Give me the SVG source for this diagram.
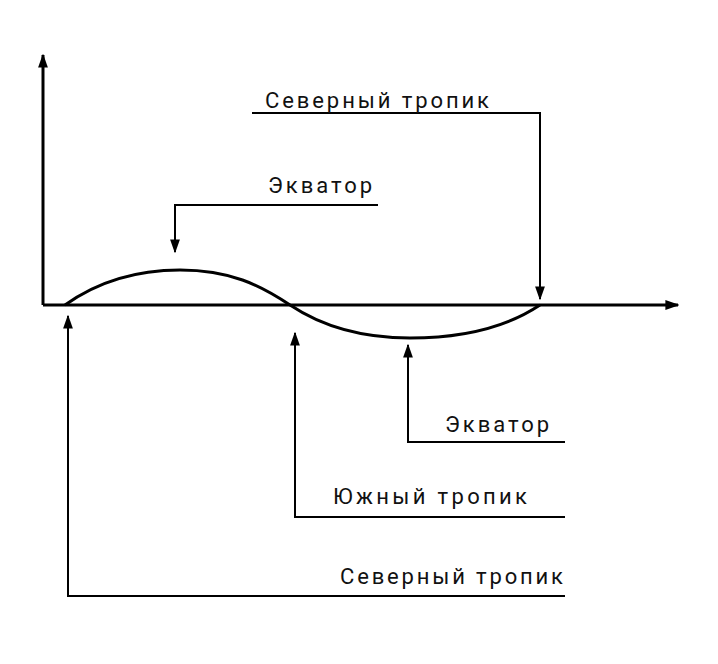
<svg xmlns="http://www.w3.org/2000/svg" width="718" height="664" viewBox="0 0 718 664">
<style>
.ln{fill:none;stroke:#000;stroke-width:2}
.ax{fill:none;stroke:#000;stroke-width:3}
text{font-family:Roboto,"Liberation Sans",sans-serif;font-size:22px;fill:#111}
</style>
<defs>
<marker id="b" viewBox="0 0 10 10" refX="9" refY="5" markerWidth="14" markerHeight="14" orient="auto" markerUnits="userSpaceOnUse"><path d="M0,1.5L10,5L0,8.5z" fill="#000"/></marker>
</defs>
<rect width="718" height="664" fill="#fff"/>
<g id="axes">
<path class="ax" d="M43,305V55" marker-end="url(#b)"/>
<path class="ax" d="M43,305H678" marker-end="url(#b)"/>
</g>
<g id="curve"><path class="ax" d="M65,305C100,280 140,270 180,270C230,270 260,285 290,305C320,325 360,338 410,338C470,338 510,325 540,305"/></g>
<g id="connectors">
<path class="ln" d="M252,113H540V299" marker-end="url(#b)"/>
<path class="ln" d="M378,205H175V252" marker-end="url(#b)"/>
<path class="ln" d="M565,442H408V345" marker-end="url(#b)"/>
<path class="ln" d="M565,517H295V333" marker-end="url(#b)"/>
<path class="ln" d="M565,596H68V316" marker-end="url(#b)"/>
</g>
<g id="l1"><text x="265" y="108" textLength="224" lengthAdjust="spacing">Северный тропик</text></g>
<g id="l2"><text x="268" y="193" textLength="104" lengthAdjust="spacing">Экватор</text></g>
<g id="l3"><text x="445" y="432" textLength="104" lengthAdjust="spacing">Экватор</text></g>
<g id="l4"><text x="333" y="504" textLength="194" lengthAdjust="spacing">Южный тропик</text></g>
<g id="l5"><text x="340" y="584" textLength="223" lengthAdjust="spacing">Северный тропик</text></g>
</svg>
